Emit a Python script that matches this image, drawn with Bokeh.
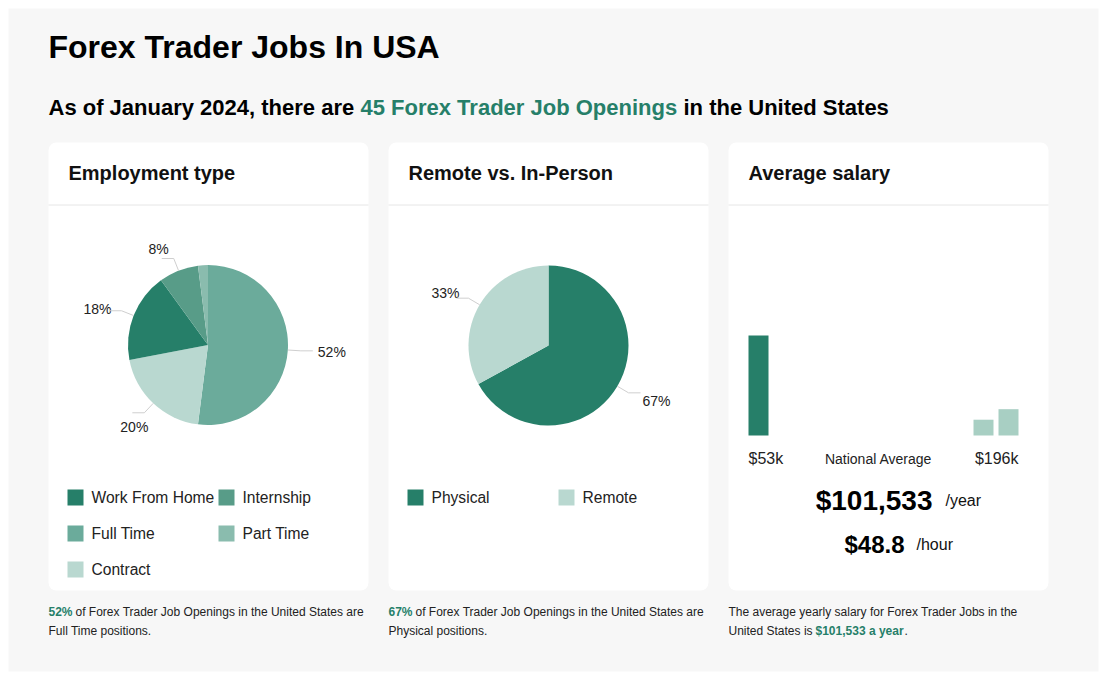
import math
from bokeh.plotting import figure
from bokeh.models import Range1d
from bokeh.core.properties import value
from bokeh.embed import file_html
from bokeh.resources import INLINE

# ---------------- data ----------------
title_text = "Forex Trader Jobs In USA"
job_count = 45
sub_pre = "As of January 2024, there are "
sub_mid = f"{job_count} Forex Trader Job Openings"
sub_post = "in the United States"

emp_labels = ["Full Time", "Contract", "Work From Home", "Internship", "Part Time"]
emp_pct = [52, 20, 18, 8, 2]
emp_colors = ["#6bab9b", "#b9d8d0", "#267f69", "#589c88", "#8abcae"]
emp_legend_order = ["Work From Home", "Internship", "Full Time", "Part Time", "Contract"]

rem_labels = ["Physical", "Remote"]
rem_pct = [67, 33]
rem_colors = ["#267f69", "#b9d8d0"]

salary_bin_counts = [19, 0, 0, 0, 0, 0, 0, 0, 0, 3, 5]
salary_bin_colors = ["#267f69"] + ["#a8cfc3"] * 10
salary_min_label = "$53k"
salary_max_label = "$196k"
avg_year = "$101,533"
avg_hour = "$48.8"

card_titles = ["Employment type", "Remote vs. In-Person", "Average salary"]

GREEN = "#267f69"
FONT = value("Liberation Sans")
TXT = "#1a1a1a"

# ---------------- canvas (page pixel coords, y negated) ----------------
W, H = 1106, 680
p = figure(width=W, height=H, x_range=Range1d(0, W), y_range=Range1d(-H, 0),
           output_backend="svg", toolbar_location=None, min_border=0,
           x_axis_type=None, y_axis_type=None)
p.grid.visible = False
p.outline_line_color = None
p.background_fill_color = "white"
p.border_fill_color = "white"

# grey panel
p.quad(left=[8], right=[1098], top=[-8], bottom=[-671], fill_color="#f7f7f7", line_color=None)


def txt(x, y, s, size, color=TXT, bold=False, align="left", baseline="middle"):
    p.text(x=[x], y=[-y], text=[s], text_font=FONT, text_font_size=value(f"{size}px"),
           text_font_style="bold" if bold else "normal", text_color=color,
           text_align=align, text_baseline=baseline)


# titles
txt(48, 46, title_text, 32, color="#000000", bold=True)
txt(48, 107, sub_pre, 22, color="#000000", bold=True)
txt(360, 107, sub_mid, 22, color=GREEN, bold=True)
txt(683, 107, sub_post, 22, color="#000000", bold=True)

# cards
card_left = [48, 388, 728]
card_w = 320
p.quad(left=card_left, right=[l + card_w for l in card_left], top=[-142] * 3, bottom=[-590] * 3,
       fill_color="white", line_color=None, border_radius=8)
p.segment(x0=card_left, x1=[l + card_w for l in card_left], y0=[-204.5] * 3, y1=[-204.5] * 3,
          line_color="#e6e6e6", line_width=1)
for l, t in zip(card_left, card_titles):
    txt(l + 20, 172, t, 20, color="#111111", bold=True)


# ---------------- pies ----------------
def pie(cx, cy, r, pcts, colors, nudges):
    cum = 0
    starts, ends = [], []
    xs, ys = [], []
    for i, v in enumerate(pcts):
        a0, a1 = cum, cum + v
        cum = a1
        starts.append(math.pi / 2 - 2 * math.pi * a0 / 100)
        ends.append(math.pi / 2 - 2 * math.pi * a1 / 100)
        if v < 5:
            continue
        th = 2 * math.pi * (a0 + a1) / 2 / 100
        s, c = math.sin(th), math.cos(th)
        ex, ey = cx + r * s, cy - r * c
        bx, by = cx + (r + 13) * s, cy - (r + 13) * c
        side = 1 if s >= 0 else -1
        nx = bx + side * 12
        xs.append([ex, bx, nx])
        ys.append([-ey, -by, -by])
        dx, dy = nudges.get(i, (0, 0))
        txt(nx + side * 3 + dx, by + dy, f"{v}%", 14, color="#222222",
            align="left" if side > 0 else "right")
    p.wedge(x=[cx] * len(pcts), y=[-cy] * len(pcts), radius=r, start_angle=starts,
            end_angle=ends, direction="clock", fill_color=colors, line_color=None)
    p.multi_line(xs=xs, ys=ys, line_color="#cfcfcf", line_width=1)


pie(207.5, 344.5, 80, emp_pct, emp_colors, {0: (2, 1), 1: (19, 14), 2: (5, -2), 3: (10, -10)})
pie(548, 345, 80, rem_pct, rem_colors, {0: (-1, 8), 1: (6, -5)})

# ---------------- legends ----------------
def legend(items, colors_map, x0, col_w, y0, row_h, ncol):
    for k, name in enumerate(items):
        cx = x0 + (k % ncol) * col_w
        cy = y0 + (k // ncol) * row_h
        p.rect(x=[cx + 8], y=[-cy], width=16, height=16, fill_color=colors_map[name], line_color=None)
        p.text(x=[cx + 24], y=[-cy], text=[name], text_font=FONT, text_font_size=value("15.6px"),
               text_color="#222222", text_align="left", text_baseline="middle")


legend(emp_legend_order, dict(zip(emp_labels, emp_colors)), 67, 151, 497, 36, 2)
legend(rem_labels, dict(zip(rem_labels, rem_colors)), 407, 151, 497, 36, 2)

# ---------------- salary bars ----------------
bar_left0, bar_step, bar_w, bar_base, bar_max_h = 748, 25, 20, 435, 100
mx = max(salary_bin_counts)
bl = [bar_left0 + i * bar_step for i in range(len(salary_bin_counts))]
p.quad(left=bl, right=[b + bar_w for b in bl], bottom=[-bar_base] * len(bl),
       top=[-bar_base + c / mx * bar_max_h for c in salary_bin_counts],
       fill_color=salary_bin_colors, line_color=None)

txt(748, 458, salary_min_label, 16, color="#222222")
txt(878, 458, "National Average", 14, color="#222222", align="center")
txt(1018, 458, salary_max_label, 16, color="#222222", align="right")
txt(932, 500, avg_year, 28, color="#000000", bold=True, align="right")
txt(945, 500, "/year", 16, color="#111111")
txt(904, 544, avg_hour, 24, color="#000000", bold=True, align="right")
txt(916, 544, "/hour", 16, color="#111111")

# ---------------- footnotes ----------------
FN = 12
txt(48, 611, f"{emp_pct[0]}%", FN, color=GREEN, bold=True)
txt(75, 611, "of Forex Trader Job Openings in the United States are", FN, color="#222222")
txt(48, 630, f"{emp_labels[0]} positions.", FN, color="#222222")

txt(388, 611, f"{rem_pct[0]}%", FN, color=GREEN, bold=True)
txt(415, 611, "of Forex Trader Job Openings in the United States are", FN, color="#222222")
txt(388, 630, f"{rem_labels[0]} positions.", FN, color="#222222")

txt(728, 611, "The average yearly salary for Forex Trader Jobs in the", FN, color="#222222")
txt(728, 630, "United States is", FN, color="#222222")
txt(815, 630, f"{avg_year} a year", FN, color=GREEN, bold=True)
txt(904, 630, ".", FN, color="#222222")

open("out.html", "w").write(file_html(p, INLINE))
